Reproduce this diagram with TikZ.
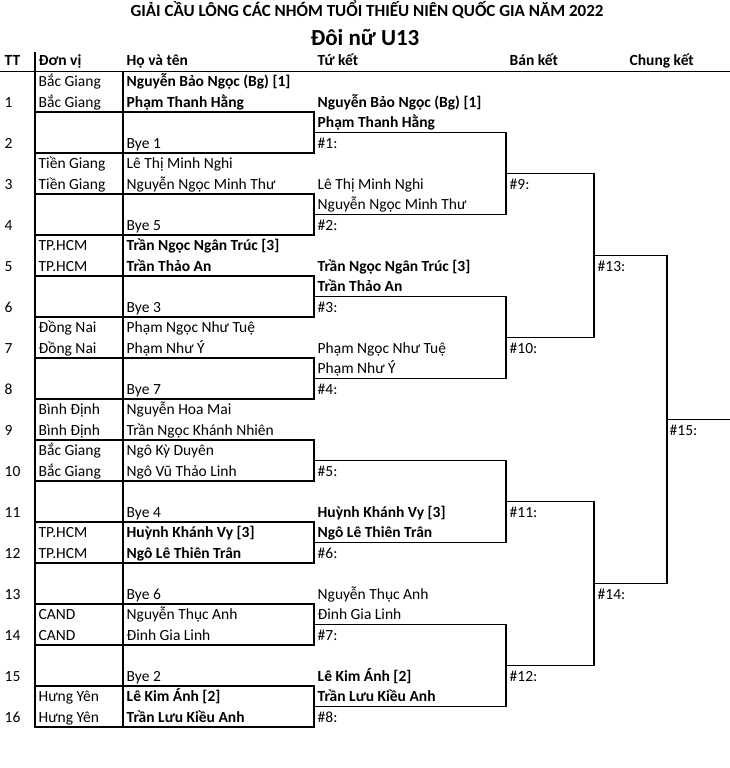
\documentclass[tikz,border=0pt]{standalone}
\usepackage{fontspec}
\setmainfont{Carlito}
\begin{document}
\begin{tikzpicture}[x=1pt,y=-1pt,line width=1.4pt,
  txt/.style={anchor=base west,inner sep=0pt,font=\fontsize{15.5}{18}\selectfont},
  seed/.style={txt,font=\fontsize{15.5}{18}\selectfont\bfseries},
  head/.style={seed}]
\useasboundingbox (0,0) rectangle (730,768);
% tieu de
\node[anchor=base,inner sep=0pt,font=\fontsize{17}{20}\selectfont\bfseries] (title) at (367,17) {GIẢI CẦU LÔNG CÁC NHÓM TUỔI THIẾU NIÊN QUỐC GIA NĂM 2022};
\node[anchor=base,inner sep=0pt,font=\fontsize{23}{26}\selectfont\bfseries] (event) at (365,46) {Đôi nữ U13};
% hang tieu de
\node[head] (hTT) at (4,66) {TT};
\node[head] (hDV) at (38,66) {Đơn vị};
\node[head] (hHT) at (126,66) {Họ và tên};
\node[head] (hTK) at (317,66) {Tứ kết};
\node[head] (hBK) at (509,66) {Bán kết};
\node[head] (hCK) at (629,66) {Chung kết};
\draw (0,71.5) -- (730,71.5);
\draw (35,52) -- (35,727);
\draw (123,71.5) -- (123,727);
% o cua cac hang chan
\foreach \k in {2,4,...,16}
  \draw (35,{71+41*(\k-1)}) rectangle (314,{71+41*\k});
% so thu tu
\foreach \k in {1,...,16}
  \node[txt] (tt\k) at (4,{71+41*(\k-1)+36.5}) {\k};
% cac doi
\foreach \k/\dv/\pa/\pb in {3/Tiền Giang/Lê Thị Minh Nghi/Nguyễn Ngọc Minh Thư,
    7/Đồng Nai/Phạm Ngọc Như Tuệ/Phạm Như Ý,
    9/Bình Định/Nguyễn Hoa Mai/Trần Ngọc Khánh Nhiên,
    10/Bắc Giang/Ngô Kỳ Duyên/Ngô Vũ Thảo Linh,
    14/CAND/Nguyễn Thục Anh/Đinh Gia Linh}{
  \node[txt] (dva\k) at (38,{71+41*(\k-1)+15.5}) {\dv};
  \node[txt] (dvb\k) at (38,{71+41*(\k-1)+36.5}) {\dv};
  \node[txt] (pa\k) at (126,{71+41*(\k-1)+15.5}) {\pa};
  \node[txt] (pb\k) at (126,{71+41*(\k-1)+36.5}) {\pb};
}
\foreach \k/\dv/\pa/\pb in {1/Bắc Giang/Nguyễn Bảo Ngọc (Bg) [1]/Phạm Thanh Hằng,
    5/TP.HCM/Trần Ngọc Ngân Trúc [3]/Trần Thảo An,
    12/TP.HCM/Huỳnh Khánh Vy [3]/Ngô Lê Thiên Trân,
    16/Hưng Yên/Lê Kim Ánh [2]/Trần Lưu Kiều Anh}{
  \node[txt] (dva\k) at (38,{71+41*(\k-1)+15.5}) {\dv};
  \node[txt] (dvb\k) at (38,{71+41*(\k-1)+36.5}) {\dv};
  \node[seed] (pa\k) at (126,{71+41*(\k-1)+15.5}) {\pa};
  \node[seed] (pb\k) at (126,{71+41*(\k-1)+36.5}) {\pb};
}
\foreach \k/\b in {2/1,4/5,6/3,8/7,11/4,13/6,15/2}
  \node[txt] (bye\k) at (126,{71+41*(\k-1)+36.5}) {Bye \b};
% tu ket
\foreach \m in {1,...,8}{
  \coordinate (q\m) at (314,{132.5+82*(\m-1)});
  \node[txt] (tk\m) at (317,{71+82*\m-4.5}) {\#\m:};
}
\foreach \m/\pa/\pb in {2/Lê Thị Minh Nghi/Nguyễn Ngọc Minh Thư,
    4/Phạm Ngọc Như Tuệ/Phạm Như Ý,
    7/Nguyễn Thục Anh/Đinh Gia Linh}{
  \node[txt] (wa\m) at (317,{71+82*(\m-1)+36.5}) {\pa};
  \node[txt] (wb\m) at (317,{71+82*(\m-1)+56.5}) {\pb};
}
\foreach \m/\pa/\pb in {1/Nguyễn Bảo Ngọc (Bg) [1]/Phạm Thanh Hằng,
    3/Trần Ngọc Ngân Trúc [3]/Trần Thảo An,
    6/Huỳnh Khánh Vy [3]/Ngô Lê Thiên Trân,
    8/Lê Kim Ánh [2]/Trần Lưu Kiều Anh}{
  \node[seed] (wa\m) at (317,{71+82*(\m-1)+36.5}) {\pa};
  \node[seed] (wb\m) at (317,{71+82*(\m-1)+56.5}) {\pb};
}
% ban ket
\foreach \j/\n in {1/9,2/10,3/11,4/12}{
  \coordinate (s\j) at (506,{173.5+164*(\j-1)});
  \node[txt] (bk\j) at (509,{173.5+164*(\j-1)+15.5}) {\#\n:};
}
% chung ket
\coordinate (f1) at (594,255.5);
\coordinate (f2) at (594,583.5);
\coordinate (c) at (667,419.5);
\coordinate (end) at (730,419.5);
\node[txt] (ck1) at (597,271) {\#13:};
\node[txt] (ck2) at (597,599) {\#14:};
\node[txt] (vd) at (669,435) {\#15:};
\draw (q1) -| (s1) |- (q2);
\draw (q3) -| (s2) |- (q4);
\draw (q5) -| (s3) |- (q6);
\draw (q7) -| (s4) |- (q8);
\draw (s1) -| (f1) |- (s2);
\draw (s3) -| (f2) |- (s4);
\draw (f1) -| (c) |- (f2);
\draw (c) -- (end);
\end{tikzpicture}
\end{document}
